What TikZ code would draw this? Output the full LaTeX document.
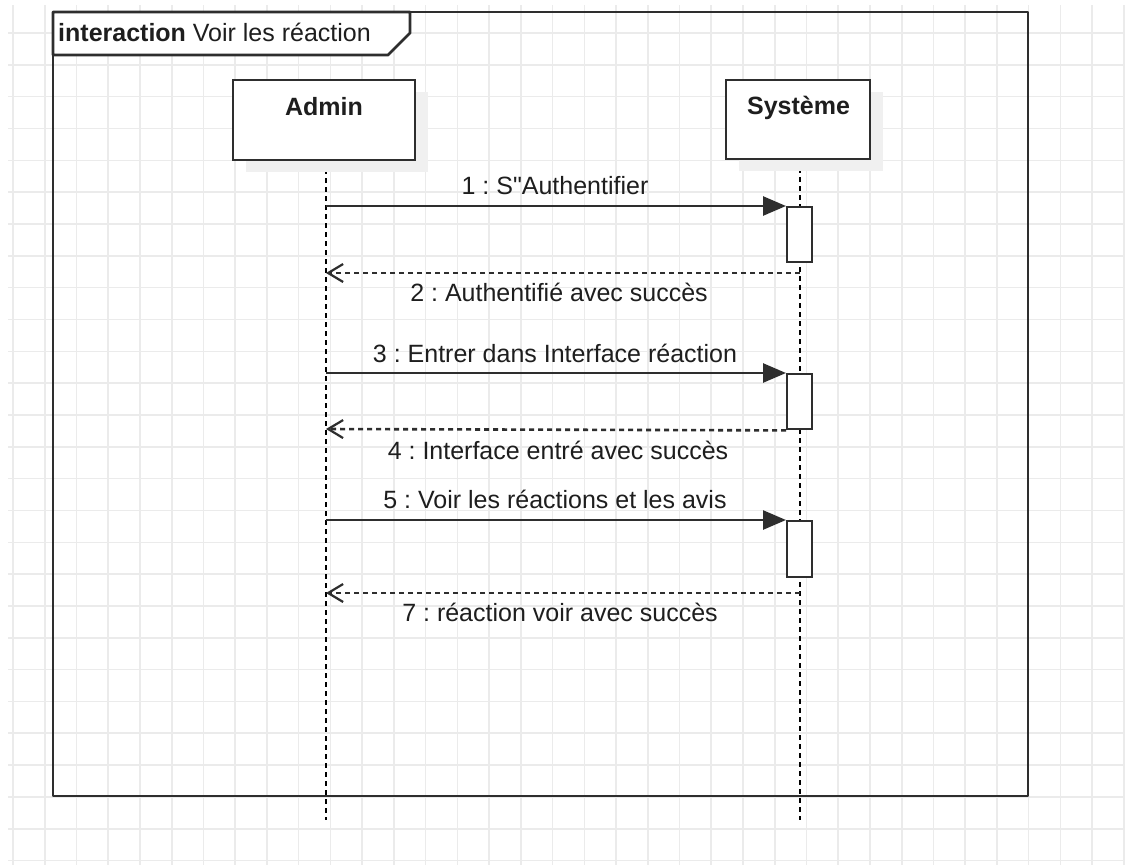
\documentclass[tikz,border=0pt]{standalone}
\usepackage{fontspec}
\setmainfont{Liberation Sans}
\usetikzlibrary{arrows.meta}
\definecolor{gridc}{HTML}{EBEBEB}
\definecolor{linec}{HTML}{2E2E2E}
\definecolor{txtc}{HTML}{1E1E1E}
\definecolor{shadowc}{HTML}{F0F0F0}
\tikzset{
  gridline/.style={draw=gridc, line width=1.6pt},
  frameline/.style={draw=linec, line width=2.8pt, line join=round},
  lifebox/.style={draw=linec, fill=white, line width=2.4pt},
  lifeline/.style={draw=black, line width=1.6pt, dash pattern=on 5pt off 4pt},
  actbar/.style={draw=linec, fill=white, line width=2.4pt},
  callmsg/.style={draw=linec, line width=2.6pt, -{Triangle[length=23pt,width=19pt]}},
  retmsg/.style={draw=linec, line width=2.6pt, dash pattern=on 5pt off 4pt, -{Straight Barb[length=15pt,width=18pt,line width=2.2pt]}},
  lbl/.style={text=txtc, anchor=base, inner sep=0pt, font=\fontsize{25}{30}\selectfont},
  ttl/.style={text=txtc, anchor=base, inner sep=0pt, font=\fontsize{25}{30}\selectfont\bfseries},
}
\frenchspacing
\newcommand{\straightquote}{\XeTeXglyph\XeTeXglyphindex "quotedbl"\relax}
\begin{document}
\begin{tikzpicture}[x=1pt,y=-1pt]
\useasboundingbox (0,0) rectangle (1125,865);
\fill[white] (0,0) rectangle (1125,865);
% grid
\foreach \i in {0,...,35}{
  \draw[gridline] ({13+31.74*\i},5) -- ({13+31.74*\i},865);
}
\foreach \j in {1,...,27}{
  \draw[gridline] (8,{1.2+31.83*\j}) -- (1125,{1.2+31.83*\j});
}
% frame
\draw[frameline] (53,12) rectangle (1028,796);
\draw[frameline, fill=white] (53,12) -- (410,12) -- (410,33) -- (388,55) -- (53,55) -- cycle;
\node[anchor=base west, inner sep=0pt, text=txtc, font=\fontsize{25}{30}\selectfont] (title) at (58,41.7) {\textbf{interaction} Voir les réaction};
% lifelines
\coordinate (aTop) at (326,160);
\coordinate (aBot) at (326,820);
\coordinate (sTop) at (800,159);
\coordinate (sBot) at (800,820);
\draw[lifeline] (aTop) -- (aBot);
\draw[lifeline] (sTop) -- (sBot);
% lifeline heads
\fill[shadowc] (246,92) rectangle (428,172);
\fill[shadowc] (739,92) rectangle (883,171);
\draw[lifebox] (233,80) rectangle (415,160);
\draw[lifebox] (726,80) rectangle (870,159);
\node[ttl] (admin) at (324,115) {Admin};
\node[ttl] (systeme) at (798.5,114.3) {Système};
% activation bars
\node[actbar, minimum width=25pt, minimum height=55pt, inner sep=0pt, anchor=north west] (act1) at (786,206) {};
\node[actbar, minimum width=25pt, minimum height=55pt, inner sep=0pt, anchor=north west] (act2) at (786,373) {};
\node[actbar, minimum width=25pt, minimum height=56pt, inner sep=0pt, anchor=north west] (act3) at (786,520) {};
% message anchors on Admin lifeline
\coordinate (a1) at (326,206);
\coordinate (a2) at (326,273);
\coordinate (a3) at (326,373);
\coordinate (a4) at (326,429);
\coordinate (a5) at (326,520);
\coordinate (a7) at (326,593);
\coordinate (s2) at (800,273);
\coordinate (s7) at (800,593);
% messages
\draw[callmsg] (a1) -- (act1.north west);
\draw[retmsg] (s2) -- (a2);
\draw[callmsg] (a3) -- (act2.north west);
\draw[retmsg] (act2.south west) -- (a4);
\draw[callmsg] (a5) -- (act3.north west);
\draw[retmsg] (s7) -- (a7);
% labels
\node[lbl] (l1) at (555,194) {1 : S\straightquote Authentifier};
\node[lbl] (l2) at (559,301) {2 : Authentifié avec succès};
\node[lbl] (l3) at (555,362) {3 : Entrer dans Interface réaction};
\node[lbl] (l4) at (558,459) {4 : Interface entré avec succès};
\node[lbl] (l5) at (555,508) {5 : Voir les réactions et les avis};
\node[lbl] (l7) at (560,621) {7 : réaction voir avec succès};
\end{tikzpicture}
\end{document}
